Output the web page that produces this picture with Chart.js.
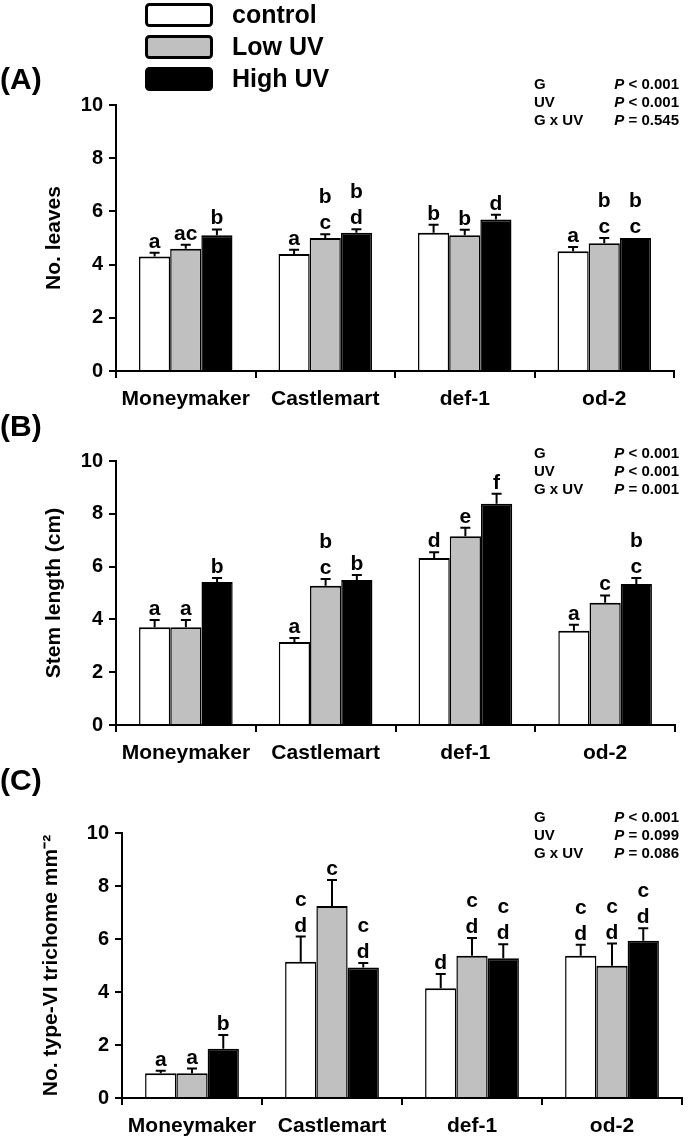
<!DOCTYPE html>
<html><head><meta charset="utf-8">
<script src="https://cdn.jsdelivr.net/npm/chart.js@4.4.1/dist/chart.umd.min.js"></script>
<style>
html,body{margin:0;padding:0;background:#fff;}
#wrap{position:relative;width:700px;height:1139px;overflow:hidden;background:#fff;}
canvas{position:absolute;left:0;}
</style></head><body>
<div id="wrap">
<canvas id="cA" width="700" height="420" style="top:0px"></canvas>
<canvas id="cB" width="700" height="375" style="top:400px"></canvas>
<canvas id="cC" width="700" height="379" style="top:760px"></canvas>
</div>
<script>
// ---------- data ----------
const categories = ['Moneymaker', 'Castlemart', 'def-1', 'od-2'];
const seriesNames = ['control', 'Low UV', 'High UV'];
const seriesColors = ['#FFFFFF', '#C0C0C0', '#000000'];
const yTickValues = [0, 2, 4, 6, 8, 10];

// (A) No. leaves
const leavesControl = [4.3, 4.4, 5.2, 4.5];
const leavesControlErr = [0.15, 0.16, 0.3, 0.16];
const leavesLow = [4.6, 5.0, 5.1, 4.8];
const leavesLowErr = [0.15, 0.14, 0.21, 0.2];
const leavesHigh = [5.1, 5.2, 5.7, 5.0];
const leavesHighErr = [0.22, 0.13, 0.17, 0.0];
const leavesControlLetters = [['a'], ['a'], ['b'], ['a']];
const leavesLowLetters = [['ac'], ['b', 'c'], ['b'], ['b', 'c']];
const leavesHighLetters = [['b'], ['b', 'd'], ['d'], ['b', 'c']];
const leavesStats = [['G', '<', '0.001'], ['UV', '<', '0.001'], ['G x UV', '=', '0.545']];

// (B) Stem length
const stemControl = [3.7, 3.14, 6.33, 3.57];
const stemControlErr = [0.28, 0.16, 0.21, 0.23];
const stemLow = [3.7, 5.27, 7.15, 4.63];
const stemLowErr = [0.28, 0.26, 0.32, 0.28];
const stemHigh = [5.42, 5.49, 8.38, 5.34];
const stemHighErr = [0.15, 0.19, 0.38, 0.23];
const stemControlLetters = [['a'], ['a'], ['d'], ['a']];
const stemLowLetters = [['a'], ['b', 'c'], ['e'], ['c']];
const stemHighLetters = [['b'], ['b'], ['f'], ['b', 'c']];
const stemStats = [['G', '<', '0.001'], ['UV', '<', '0.001'], ['G x UV', '=', '0.001']];

// (C) type-VI trichomes
const trichControl = [0.93, 5.14, 4.14, 5.37];
const trichControlErr = [0.1, 0.95, 0.54, 0.41];
const trichLow = [0.93, 7.25, 5.37, 4.99];
const trichLowErr = [0.18, 0.98, 0.67, 0.84];
const trichHigh = [1.86, 4.92, 5.27, 5.93];
const trichHighErr = [0.52, 0.17, 0.53, 0.48];
const trichControlLetters = [['a'], ['c', 'd'], ['d'], ['c', 'd']];
const trichLowLetters = [['a'], ['c'], ['c', 'd'], ['c', 'd']];
const trichHighLetters = [['b'], ['c', 'd'], ['c', 'd'], ['c', 'd']];
const trichStats = [['G', '<', '0.001'], ['UV', '=', '0.099'], ['G x UV', '=', '0.086']];

// ---------- drawing ----------
const FONT = '"Liberation Sans", Arial, Helvetica, sans-serif';
Chart.defaults.font.family = FONT;
Chart.defaults.font.weight = 'bold';
Chart.defaults.color = '#000';

const annotPlugin = {
  id: 'annot',
  afterDatasetsDraw(chart, args, opts) {
    const ctx = chart.ctx;
    const ys = chart.scales.y;
    const off = opts.canvasTop;
    ctx.save();
    // error bars and significance letters
    opts.errors.forEach((errs, di) => {
      const meta = chart.getDatasetMeta(di);
      const vals = chart.data.datasets[di].data;
      meta.data.forEach((bar, j) => {
        const v = vals[j], e = errs[j];
        const yTop = ys.getPixelForValue(v);
        const yE = ys.getPixelForValue(v + e);
        ctx.strokeStyle = '#000';
        ctx.lineWidth = 2;
        if (e > 0) {
          ctx.beginPath();
          ctx.moveTo(bar.x, yTop);
          ctx.lineTo(bar.x, yE);
          ctx.moveTo(bar.x - 5, yE);
          ctx.lineTo(bar.x + 5, yE);
          ctx.stroke();
        }
        const letters = opts.letters[di][j];
        ctx.font = 'bold 21px ' + FONT;
        ctx.fillStyle = '#000';
        ctx.textAlign = 'center';
        ctx.textBaseline = 'alphabetic';
        for (let k = 0; k < letters.length; k++) {
          ctx.fillText(letters[letters.length - 1 - k], bar.x, yE - 5 - k * 26);
        }
      });
    });
    // panel label
    ctx.font = 'bold 30px ' + FONT;
    ctx.textAlign = 'left';
    ctx.textBaseline = 'middle';
    ctx.fillText(opts.panelLabel, 0, opts.panelLabelY - off);
    // statistics
    opts.stats.forEach((s, i) => {
      const y = opts.statsY[i] - off;
      ctx.textAlign = 'left';
      ctx.font = 'bold 15px ' + FONT;
      ctx.fillText(s[0], 534, y);
      const rest = ' ' + s[1] + ' ' + s[2];
      const wRest = ctx.measureText(rest).width;
      ctx.textAlign = 'right';
      ctx.fillText(rest, 679, y);
      ctx.font = 'italic bold 15px ' + FONT;
      ctx.fillText('P', 679 - wRest, y);
    });
    // legend
    if (opts.legend) {
      const boxTops = [4, 36, 68];
      seriesNames.forEach((name, i) => {
        const y0 = boxTops[i] - off;
        ctx.beginPath();
        ctx.roundRect(146.5, y0 + 0.5, 65, 21, 3);
        ctx.fillStyle = seriesColors[i];
        ctx.fill();
        ctx.lineWidth = 3;
        ctx.strokeStyle = '#000';
        ctx.stroke();
        ctx.fillStyle = '#000';
        ctx.font = 'bold 25px ' + FONT;
        ctx.textAlign = 'left';
        ctx.textBaseline = 'middle';
        ctx.fillText(name, 232, y0 + 12);
      });
    }
    ctx.restore();
  }
};

function makePanel(id, cfg) {
  const datasets = cfg.values.map((vals, i) => ({
    label: seriesNames[i],
    data: vals,
    backgroundColor: seriesColors[i],
    borderColor: '#000',
    borderWidth: { top: 2, left: 1.5, right: 1.5, bottom: 0 },
    borderSkipped: false,
    categoryPercentage: 0.67,
    barPercentage: 1.0
  }));
  return new Chart(document.getElementById(id), {
    type: 'bar',
    data: { labels: categories, datasets },
    plugins: [annotPlugin],
    options: {
      responsive: false,
      animation: false,
      devicePixelRatio: 1,
      layout: { padding: { top: cfg.padTop, right: cfg.padRight, left: 0, bottom: 0 } },
      plugins: {
        legend: { display: false },
        tooltip: { enabled: false },
        annot: {
          canvasTop: cfg.canvasTop,
          errors: cfg.errors,
          letters: cfg.letters,
          panelLabel: cfg.panelLabel,
          panelLabelY: cfg.panelLabelY,
          stats: cfg.stats,
          statsY: cfg.statsY,
          legend: cfg.legend
        }
      },
      scales: {
        x: {
          z: 1,
          offset: true,
          grid: { display: true, offset: true, drawOnChartArea: false, tickLength: 7, color: '#000', lineWidth: 2 },
          border: { display: true, color: '#000', width: 2 },
          ticks: { font: { size: 21, weight: 'bold' }, color: '#000', padding: 9, maxRotation: 0, autoSkip: false },
          afterFit: (s) => { s.height = cfg.xHeight; }
        },
        y: {
          z: 1,
          min: 0, max: 10,
          afterBuildTicks: (s) => { s.ticks = yTickValues.map(v => ({ value: v })); },
          grid: { display: true, drawOnChartArea: false, tickLength: 7, color: '#000', lineWidth: 2 },
          border: { display: true, color: '#000', width: 2 },
          ticks: { font: { size: 20, weight: 'bold' }, color: '#000', padding: 6 },
          title: { display: true, text: cfg.title, font: { size: 21, weight: 'bold' }, color: '#000', padding: { top: cfg.titlePad, bottom: 0 } },
          afterFit: (s) => { s.width = cfg.left; }
        }
      }
    }
  });
}

makePanel('cA', {
  canvasTop: 0, padTop: 105, padRight: 26, xHeight: 49, left: 116, titlePad: 42,
  title: 'No. leaves',
  values: [leavesControl, leavesLow, leavesHigh],
  errors: [leavesControlErr, leavesLowErr, leavesHighErr],
  letters: [leavesControlLetters, leavesLowLetters, leavesHighLetters],
  panelLabel: '(A)', panelLabelY: 81,
  stats: leavesStats, statsY: [85, 103, 121],
  legend: true
});
makePanel('cB', {
  canvasTop: 400, padTop: 61, padRight: 25, xHeight: 50, left: 116, titlePad: 42,
  title: 'Stem length (cm)',
  values: [stemControl, stemLow, stemHigh],
  errors: [stemControlErr, stemLowErr, stemHighErr],
  letters: [stemControlLetters, stemLowLetters, stemHighLetters],
  panelLabel: '(B)', panelLabelY: 428,
  stats: stemStats, statsY: [454, 472, 490],
  legend: false
});
makePanel('cC', {
  canvasTop: 760, padTop: 73, padRight: 18, xHeight: 41, left: 122, titlePad: 39,
  title: 'No. type-VI trichome mm\u207B\u00B2',
  values: [trichControl, trichLow, trichHigh],
  errors: [trichControlErr, trichLowErr, trichHighErr],
  letters: [trichControlLetters, trichLowLetters, trichHighLetters],
  panelLabel: '(C)', panelLabelY: 782,
  stats: trichStats, statsY: [818, 836, 854],
  legend: false
});
</script>
</body></html>
